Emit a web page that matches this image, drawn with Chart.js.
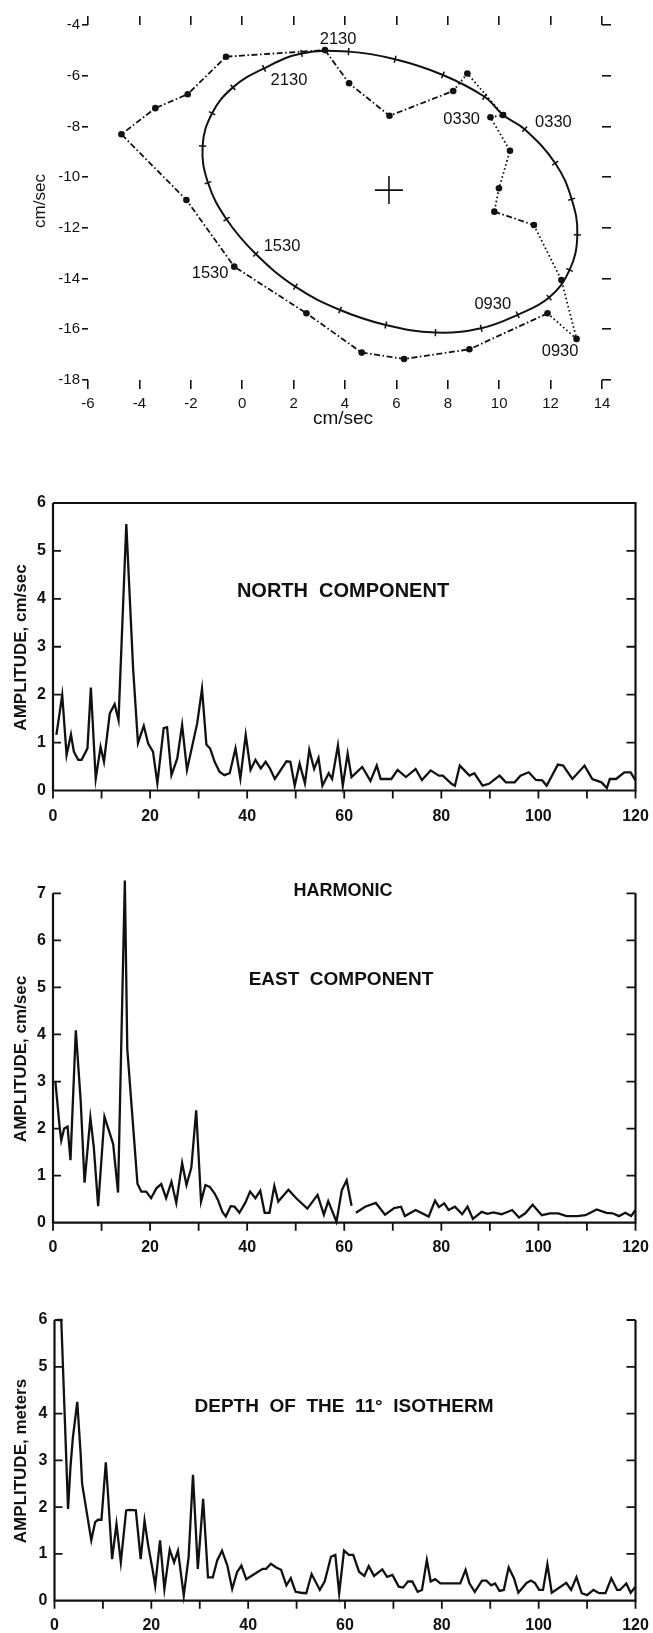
<!DOCTYPE html>
<html>
<head>
<meta charset="utf-8">
<title>Current hodograph and harmonic amplitude spectra</title>
<script src="https://cdn.jsdelivr.net/npm/chart.js@4.4.1/dist/chart.umd.min.js"></script>
<style>
  html, body { margin:0; padding:0; background:#ffffff; }
  body { width:653px; height:1633px; position:relative; overflow:hidden; }
  canvas { position:absolute; left:0; display:block; }
</style>
</head>
<body>
<canvas id="hodo" width="653" height="440" style="top:0px"></canvas>
<canvas id="north" width="653" height="360" style="top:470px"></canvas>
<canvas id="east" width="653" height="400" style="top:860px"></canvas>
<canvas id="depth" width="653" height="343" style="top:1290px"></canvas>
<script>
// ================= DATA =================
// --- hodograph (cm/sec) ---
const hodoXTicks = [-6, -4, -2, 0, 2, 4, 6, 8, 10, 12, 14];
const hodoYTicks = [-18, -16, -14, -12, -10, -8, -6, -4];

// tidal ellipse, hourly marks
const ellipseX = [4.14, 5.95, 7.81, 9.43, 10.15, 10.99, 12.18, 12.82, 13.04, 12.74, 11.94, 10.72, 9.30,
                  7.52, 5.59, 3.81, 2.07, 0.53, -0.61, -1.33, -1.54, -1.17, -0.36, 0.85, 2.31];
const ellipseY = [-5.05, -5.35, -5.97, -6.83, -7.55, -8.11, -9.45, -10.87, -12.28, -13.66, -14.75, -15.43, -15.96,
                  -16.13, -15.83, -15.24, -14.32, -13.03, -11.66, -10.22, -8.77, -7.48, -6.46, -5.71, -5.12];

// observed hourly currents
const hourlyX = [3.22, 4.16, 5.73, 8.21, 8.76, 10.15, 9.66, 10.42, 9.99, 9.81, 11.35, 12.42,
                 13.01, 11.88, 8.84, 6.30, 4.65, 2.50, -0.31, -2.17, -4.70, -3.38, -2.12, -0.63];
const hourlyY = [-4.99, -6.30, -7.58, -6.60, -5.91, -7.55, -7.64, -8.96, -10.44, -11.36, -11.89, -14.06,
                 -16.38, -15.37, -16.79, -17.17, -16.92, -15.37, -13.53, -10.90, -8.31, -7.28, -6.73, -5.25];

// mean current
const meanX = [5.71];
const meanY = [-10.51];

// time annotations
const timeLabels = ['2130', '2130', '0330', '0330', '1530', '1530', '0930', '0930'];
const timeLabelX = [3.73, 1.82, 8.54, 12.11, 1.55, -1.25, 9.75, 12.37];
const timeLabelY = [-4.56, -6.17, -7.71, -7.84, -12.74, -13.79, -15.04, -16.89];

// --- spectra ---
const harmonicTicks = [0, 10, 20, 30, 40, 50, 60, 70, 80, 90, 100, 110, 120];
const harmonicLabels = [0, 20, 40, 60, 80, 100, 120];
const northTicks = [0, 1, 2, 3, 4, 5, 6];
const eastTicks = [0, 1, 2, 3, 4, 5, 6, 7];
const depthTicks = [0, 1, 2, 3, 4, 5, 6];

const northH = [0.7, 1.9, 2.8, 3.7, 4.3, 5.2, 5.9, 7.1, 7.8, 8.8,
  9.8, 10.5, 11.7, 12.7, 13.5, 15.1, 16.5, 17.5, 18.7, 19.6,
  20.6, 21.5, 22.8, 23.5, 24.4, 25.6, 26.6, 27.6, 29.7, 30.7,
  31.6, 32.4, 33.3, 34.3, 35.3, 36.4, 37.6, 38.6, 39.7, 40.7,
  41.7, 42.8, 43.8, 44.7, 45.7, 48.1, 48.9, 49.8, 50.8, 51.9,
  52.8, 53.8, 54.7, 55.5, 56.8, 57.5, 58.7, 59.7, 60.7, 61.5,
  63.7, 65.4, 66.7, 67.5, 69.7, 71.0, 72.7, 74.7, 76.0, 77.8,
  79.5, 80.3, 82.1, 82.8, 83.8, 85.8, 86.8, 88.5, 89.8, 92.0,
  93.3, 95.1, 96.3, 98.0, 99.5, 100.8, 101.7, 104.0, 105.1, 107.0,
  109.5, 111.1, 113.0, 114.1, 114.7, 116.0, 117.7, 119.0, 120.0];
const northA = [1.16, 1.99, 0.74, 1.17, 0.81, 0.64, 0.64, 0.88, 2.15, 0.24,
  0.91, 0.60, 1.61, 1.80, 1.47, 5.56, 2.55, 0.99, 1.35, 0.98,
  0.81, 0.15, 1.30, 1.32, 0.32, 0.67, 1.37, 0.43, 1.40, 2.12,
  0.96, 0.87, 0.60, 0.39, 0.32, 0.36, 0.88, 0.25, 1.16, 0.43,
  0.64, 0.46, 0.60, 0.46, 0.24, 0.61, 0.60, 0.10, 0.56, 0.15,
  0.85, 0.45, 0.68, 0.10, 0.36, 0.24, 0.94, 0.10, 0.77, 0.28,
  0.49, 0.20, 0.52, 0.24, 0.24, 0.43, 0.28, 0.45, 0.22, 0.42,
  0.31, 0.31, 0.14, 0.10, 0.52, 0.31, 0.36, 0.10, 0.14, 0.31,
  0.17, 0.17, 0.31, 0.38, 0.22, 0.21, 0.10, 0.54, 0.52, 0.24,
  0.52, 0.24, 0.17, 0.05, 0.24, 0.24, 0.38, 0.38, 0.21];

const eastH = [0.5, 1.4, 1.7, 2.3, 3.0, 3.6, 4.7, 5.7, 6.5, 7.7,
  8.4, 9.3, 10.6, 11.7, 12.4, 13.4, 14.8, 15.3, 17.4, 18.2,
  19.2, 20.2, 21.3, 22.3, 23.3, 24.4, 25.4, 26.6, 27.5, 28.5,
  29.5, 30.5, 31.4, 32.3, 33.3, 34.0, 34.9, 35.6, 36.6, 37.4,
  38.4, 39.6, 40.6, 41.7, 42.7, 43.6, 44.6, 45.6, 46.4, 48.5,
  50.1, 52.4, 54.5, 55.8, 56.7, 58.4, 59.5, 60.5, 61.5, 62.0,
  62.4, 64.3, 66.5, 68.4, 70.3, 71.7, 72.5, 74.7, 77.4, 78.7,
  79.5, 80.6, 81.5, 82.8, 84.3, 85.4, 86.5, 88.3, 89.5, 90.7,
  92.4, 94.6, 96.0, 97.3, 98.8, 100.7, 102.4, 104.1, 105.8, 108.0,
  109.7, 112.0, 114.0, 115.3, 116.6, 117.9, 119.1, 120.0];
const eastA = [2.99, 2.00, 1.75, 2.00, 2.04, 1.33, 4.09, 2.60, 0.85, 2.23,
  1.61, 0.35, 2.25, 1.90, 1.67, 0.64, 7.27, 3.70, 0.83, 0.66,
  0.66, 0.52, 0.73, 0.82, 0.52, 0.87, 0.42, 1.27, 0.80, 1.17,
  2.39, 0.45, 0.80, 0.76, 0.62, 0.48, 0.23, 0.13, 0.35, 0.34,
  0.21, 0.42, 0.66, 0.52, 0.68, 0.21, 0.21, 0.78, 0.45, 0.70,
  0.52, 0.30, 0.59, 0.17, 0.46, 0.02, 0.69, 0.90, 0.36, null,
  0.21, 0.34, 0.42, 0.17, 0.31, 0.34, 0.14, 0.27, 0.13, 0.47,
  0.33, 0.41, 0.27, 0.34, 0.18, 0.34, 0.08, 0.23, 0.19, 0.22,
  0.18, 0.27, 0.11, 0.20, 0.38, 0.16, 0.20, 0.20, 0.14, 0.14,
  0.16, 0.28, 0.21, 0.20, 0.14, 0.21, 0.14, 0.27];

const depthH = [0.5, 1.4, 2.8, 3.3, 3.8, 4.7, 5.4, 5.7, 7.6, 8.4,
  9.0, 9.7, 10.6, 11.0, 11.9, 12.8, 13.7, 14.8, 15.5, 16.8,
  17.8, 18.6, 19.3, 20.3, 20.8, 21.8, 22.7, 23.8, 24.7, 25.5,
  26.7, 27.7, 28.6, 29.6, 30.7, 31.7, 32.7, 33.6, 34.6, 35.7,
  36.7, 37.7, 38.6, 39.6, 41.3, 43.0, 43.7, 44.7, 45.8, 46.8,
  47.9, 48.8, 49.8, 50.9, 52.0, 53.1, 54.8, 55.8, 57.1, 58.0,
  58.8, 59.8, 60.8, 61.7, 62.9, 64.0, 64.9, 66.0, 67.7, 68.7,
  69.8, 71.1, 72.0, 73.0, 73.9, 75.0, 75.9, 76.9, 77.7, 78.6,
  79.7, 83.8, 84.9, 85.7, 86.8, 88.3, 89.2, 90.2, 91.0, 91.9,
  92.8, 93.8, 94.9, 95.8, 97.5, 98.4, 99.2, 100.1, 100.9, 101.8,
  102.7, 105.7, 106.7, 107.8, 108.9, 110.0, 111.3, 112.5, 113.8, 115.0,
  116.2, 116.8, 118.1, 119.0, 120.0];
const depthA = [6.00, 6.00, 1.96, 2.86, 3.49, 4.25, 3.14, 2.50, 1.29, 1.68,
  1.73, 1.73, 2.96, 2.36, 0.89, 1.64, 0.82, 1.93, 1.94, 1.93,
  0.89, 1.71, 1.21, 0.64, 0.32, 1.29, 0.25, 1.09, 0.82, 1.07,
  0.11, 0.93, 2.69, 0.68, 2.18, 0.50, 0.50, 0.86, 1.07, 0.75,
  0.25, 0.61, 0.75, 0.46, 0.57, 0.68, 0.68, 0.79, 0.71, 0.66,
  0.33, 0.48, 0.19, 0.17, 0.16, 0.57, 0.23, 0.41, 0.94, 0.98,
  0.16, 1.07, 0.98, 0.98, 0.62, 0.53, 0.74, 0.53, 0.67, 0.51,
  0.55, 0.30, 0.28, 0.41, 0.41, 0.19, 0.23, 0.87, 0.41, 0.46,
  0.37, 0.37, 0.66, 0.37, 0.19, 0.43, 0.43, 0.33, 0.37, 0.21,
  0.23, 0.71, 0.48, 0.17, 0.38, 0.43, 0.38, 0.23, 0.23, 0.78,
  0.17, 0.38, 0.23, 0.50, 0.16, 0.12, 0.23, 0.16, 0.16, 0.48,
  0.23, 0.23, 0.37, 0.17, 0.30];

// ================= STYLE / RENDER =================
const FONT = "'Liberation Sans', Arimo, Arial, sans-serif";
const INK = '#111111';
const fixTicks = arr => (scale => { scale.ticks = arr.map(v => ({ value: v })); });

// ---------- hodograph ----------
const nE = ellipseX.length;
const ring = [nE - 1];
for (let i = 0; i < nE; i++) ring.push(i);
ring.push(0, 1);
const ellipseData = ring.map(i => ({ x: ellipseX[i], y: ellipseY[i] }));
const hourlyData = hourlyX.map((x, i) => ({ x: x, y: hourlyY[i] }));
hourlyData.push({ x: hourlyX[0], y: hourlyY[0] });
const dottedSegments = [3, 4, 5, 6, 7, 8, 10, 11, 12];

const tickGrid = len => ({ display: true, drawOnChartArea: false, drawTicks: true, tickLength: len, color: INK, lineWidth: 1.6 });

const hodoText = {
  id: 'hodoText',
  afterDraw(chart) {
    const { ctx, scales } = chart;
    const sx = scales.x, sy = scales.y;
    ctx.save();
    ctx.fillStyle = INK;
    ctx.textAlign = 'center';
    ctx.textBaseline = 'middle';
    ctx.font = '16.5px ' + FONT;
    timeLabels.forEach((t, i) => {
      ctx.fillText(t, sx.getPixelForValue(timeLabelX[i]), sy.getPixelForValue(timeLabelY[i]));
    });
    ctx.font = '19px ' + FONT;
    ctx.fillText('cm/sec', 343, 419);
    ctx.translate(40, 201);
    ctx.rotate(-Math.PI / 2);
    ctx.font = '17px ' + FONT;
    ctx.fillText('cm/sec', 0, 0);
    ctx.restore();
  }
};

new Chart(document.getElementById('hodo'), {
  type: 'scatter',
  data: {
    datasets: [
      {
        label: 'Tidal ellipse',
        data: ellipseData,
        showLine: true,
        borderColor: INK,
        borderWidth: 2,
        tension: 0.4,
        fill: false,
        segment: {
          borderColor: c => (c.p0DataIndex === 0 || c.p0DataIndex === nE + 1) ? 'rgba(0,0,0,0)' : INK
        },
        pointStyle: 'line',
        pointRadius: c => (c.dataIndex >= 1 && c.dataIndex <= nE) ? 3.6 : 0,
        pointHoverRadius: 0,
        pointBorderColor: INK,
        pointBorderWidth: 1.5,
        pointRotation: c => {
          const d = c.dataset.data, i = c.dataIndex;
          if (i <= 0 || i >= d.length - 1) return 0;
          const sx = c.chart.scales.x, sy = c.chart.scales.y;
          const dx = sx.getPixelForValue(d[i + 1].x) - sx.getPixelForValue(d[i - 1].x);
          const dy = sy.getPixelForValue(d[i + 1].y) - sy.getPixelForValue(d[i - 1].y);
          return Math.atan2(dy, dx) * 180 / Math.PI + 90;
        }
      },
      {
        label: 'Hourly current',
        data: hourlyData,
        showLine: true,
        borderColor: INK,
        borderWidth: 1.8,
        tension: 0,
        fill: false,
        segment: {
          borderDash: c => dottedSegments.includes(c.p0DataIndex) ? [1.6, 2.6] : [6, 2.5, 1.6, 2.5]
        },
        pointStyle: 'circle',
        pointRadius: c => c.dataIndex < hourlyX.length ? 3.3 : 0,
        pointHoverRadius: 0,
        pointBackgroundColor: INK,
        pointBorderColor: INK,
        pointBorderWidth: 0
      },
      {
        label: 'Mean',
        data: meanX.map((x, i) => ({ x: x, y: meanY[i] })),
        showLine: false,
        pointStyle: 'cross',
        pointRadius: 14,
        pointHoverRadius: 14,
        pointBorderColor: INK,
        pointBorderWidth: 1.6
      }
    ]
  },
  options: {
    responsive: false,
    animation: false,
    devicePixelRatio: 1,
    layout: { padding: 0 },
    events: [],
    plugins: { legend: { display: false }, tooltip: { enabled: false } },
    scales: {
      x: {
        type: 'linear', position: 'bottom', min: -6, max: 14,
        afterBuildTicks: fixTicks(hodoXTicks),
        ticks: { color: INK, font: { family: FONT, size: 15 }, padding: 6, maxRotation: 0, autoSkip: false },
        grid: tickGrid(9), border: { display: false },
        afterFit: s => { s.height = 60; s.paddingLeft = 0; s.paddingRight = 0; }
      },
      x2: {
        type: 'linear', position: 'top', min: -6, max: 14,
        afterBuildTicks: fixTicks(hodoXTicks),
        ticks: { display: false },
        grid: tickGrid(9), border: { display: false },
        afterFit: s => { s.height = 25; s.paddingLeft = 0; s.paddingRight = 0; }
      },
      y: {
        type: 'linear', position: 'left', min: -18, max: -4,
        afterBuildTicks: fixTicks(hodoYTicks),
        ticks: { color: INK, font: { family: FONT, size: 15 }, padding: 2, autoSkip: false },
        grid: tickGrid(6), border: { display: false },
        afterFit: s => { s.width = 88; s.paddingTop = 0; s.paddingBottom = 0; }
      },
      y2: {
        type: 'linear', position: 'right', min: -18, max: -4,
        afterBuildTicks: fixTicks(hodoYTicks),
        ticks: { display: false },
        grid: tickGrid(9), border: { display: false },
        afterFit: s => { s.width = 51; s.paddingTop = 0; s.paddingBottom = 0; }
      }
    }
  },
  plugins: [hodoText]
});

// ---------- spectra ----------
function spectrum(id, H, A, yTicks, g) {
  const ymax = yTicks[yTicks.length - 1];
  const data = H.map((h, i) => ({ x: h, y: A[i] }));
  const frame = {
    id: 'frame_' + id,
    afterDraw(chart) {
      const { ctx, chartArea: ca, scales } = chart;
      const sx = scales.x, sy = scales.y;
      const y0 = sy.getPixelForValue(0), yT = sy.getPixelForValue(ymax);
      ctx.save();
      ctx.strokeStyle = INK;
      ctx.lineWidth = 2.2;
      ctx.beginPath();
      ctx.moveTo(ca.left, yT);
      ctx.lineTo(ca.left, y0);
      ctx.lineTo(ca.right, y0);
      ctx.lineTo(ca.right, yT);
      if (g.closed) ctx.lineTo(ca.left, yT);
      ctx.stroke();
      ctx.lineWidth = 1.8;
      ctx.beginPath();
      sy.ticks.forEach(t => {
        if (t.value === 0) return;
        if (g.closed && t.value === ymax) return;
        const py = sy.getPixelForValue(t.value);
        ctx.moveTo(ca.left, py); ctx.lineTo(ca.left + 8, py);
        ctx.moveTo(ca.right, py); ctx.lineTo(ca.right - 9, py);
      });
      sx.ticks.forEach(t => {
        const px = sx.getPixelForValue(t.value);
        ctx.moveTo(px, y0); ctx.lineTo(px, y0 + 8);
      });
      ctx.stroke();
      ctx.fillStyle = INK;
      ctx.textAlign = 'center';
      ctx.textBaseline = 'middle';
      g.texts.forEach(t => { ctx.font = t.font; ctx.fillText(t.text, t.x, t.y); });
      ctx.translate(21, g.ytitleY);
      ctx.rotate(-Math.PI / 2);
      ctx.font = 'bold 17px ' + FONT;
      ctx.fillText(g.ytitle, 0, 0);
      ctx.restore();
    }
  };
  const blank = { display: false };
  new Chart(document.getElementById(id), {
    type: 'line',
    data: {
      datasets: [{
        label: g.name,
        data: data,
        borderColor: INK,
        borderWidth: 2.3,
        pointRadius: 0,
        pointHoverRadius: 0,
        tension: 0,
        spanGaps: false,
        clip: false,
        fill: false
      }]
    },
    options: {
      responsive: false,
      animation: false,
      devicePixelRatio: 1,
      events: [],
      layout: { padding: 0 },
      plugins: { legend: { display: false }, tooltip: { enabled: false } },
      scales: {
        x: {
          type: 'linear', position: 'bottom', min: 0, max: 120,
          afterBuildTicks: fixTicks(harmonicTicks),
          ticks: {
            callback: v => harmonicLabels.includes(v) ? String(v) : '',
            color: INK, font: { family: FONT, size: 16, weight: 'bold' },
            padding: g.xpad, maxRotation: 0, autoSkip: false
          },
          grid: { display: false, drawTicks: false }, border: blank,
          afterFit: s => { s.height = g.xh; s.paddingLeft = 0; s.paddingRight = 0; }
        },
        xTop: {
          type: 'linear', position: 'top', min: 0, max: 120,
          ticks: blank, grid: { display: false, drawTicks: false }, border: blank,
          afterFit: s => { s.height = g.top; s.paddingLeft = 0; s.paddingRight = 0; }
        },
        y: {
          type: 'linear', position: 'left', min: 0, max: ymax,
          afterBuildTicks: fixTicks(yTicks),
          ticks: { color: INK, font: { family: FONT, size: 16, weight: 'bold' }, padding: 7, autoSkip: false },
          grid: { display: false, drawTicks: false }, border: blank,
          afterFit: s => { s.width = g.yw; s.paddingTop = 0; s.paddingBottom = 0; }
        },
        yRight: {
          type: 'linear', position: 'right', min: 0, max: ymax,
          ticks: blank, grid: { display: false, drawTicks: false }, border: blank,
          afterFit: s => { s.width = g.right; s.paddingTop = 0; s.paddingBottom = 0; }
        }
      }
    },
    plugins: [frame]
  });
}

spectrum('north', northH, northA, northTicks, {
  name: 'North component', top: 33, right: 17.5, yw: 53, xh: 39.5, xpad: 16.5, closed: true,
  ytitle: 'AMPLITUDE, cm/sec', ytitleY: 177.5,
  texts: [{ text: 'NORTH  COMPONENT', x: 343, y: 121, font: 'bold 20px ' + FONT }]
});
spectrum('east', eastH, eastA, eastTicks, {
  name: 'East component', top: 33.3, right: 17.5, yw: 53, xh: 37.3, xpad: 15.5, closed: false,
  ytitle: 'AMPLITUDE, cm/sec', ytitleY: 199,
  texts: [
    { text: 'HARMONIC', x: 343, y: 31.5, font: 'bold 18px ' + FONT },
    { text: 'EAST  COMPONENT', x: 341, y: 120, font: 'bold 19px ' + FONT }
  ]
});
spectrum('depth', depthH, depthA, depthTicks, {
  name: 'Depth of the 11° isotherm', top: 30, right: 17.5, yw: 54.5, xh: 32.3, xpad: 15, closed: false,
  ytitle: 'AMPLITUDE, meters', ytitleY: 171,
  texts: [{ text: 'DEPTH  OF  THE  11°  ISOTHERM', x: 344, y: 117, font: 'bold 19px ' + FONT }]
});
</script>
</body>
</html>
